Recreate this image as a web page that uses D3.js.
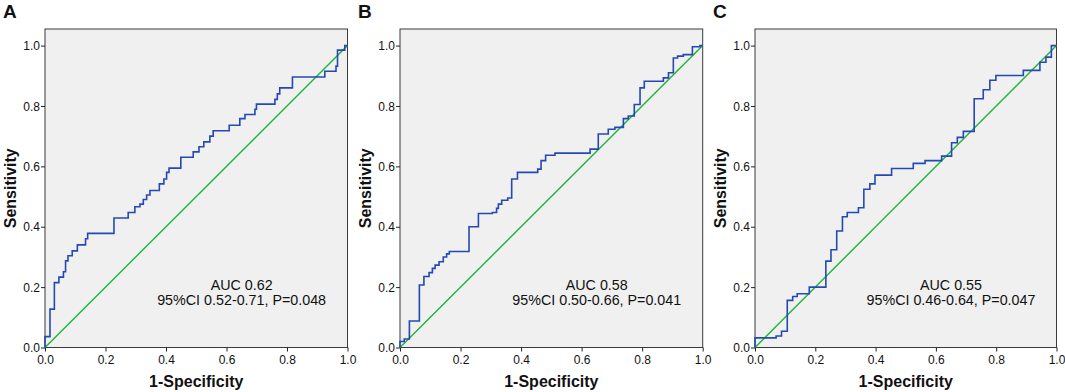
<!DOCTYPE html>
<html>
<head>
<meta charset="utf-8">
<script src="https://cdn.jsdelivr.net/npm/d3@7"></script>
<style>
  body { margin: 0; background: #fff; }
  svg { display: block; font-family: "Liberation Sans", Arial, sans-serif; }
</style>
</head>
<body>
<div id="chart"></div>
<script>
// ROC curve corner points (1-specificity, sensitivity)
var fprA = [0,0,0.0165,0.031,0.046,0.061,0.068,0.076,0.09,0.107,0.134,0.141,0.228,0.275,0.297,0.314,0.325,0.336,0.347,0.378,0.393,0.402,0.41,0.449,0.49,0.509,0.525,0.545,0.556,0.609,0.644,0.661,0.694,0.699,0.76,0.768,0.776,0.818,0.925,0.962,0.967,0.991,1];
var tprA = [0,0.036,0.127,0.215,0.233,0.251,0.287,0.304,0.32,0.34,0.36,0.378,0.429,0.447,0.466,0.475,0.49,0.505,0.52,0.542,0.558,0.58,0.594,0.63,0.648,0.665,0.681,0.70,0.718,0.736,0.758,0.772,0.789,0.806,0.822,0.84,0.86,0.896,0.915,0.932,0.985,1.0,1];

var fprB = [0,0,0.014,0.031,0.064,0.079,0.096,0.107,0.116,0.129,0.143,0.154,0.163,0.228,0.259,0.305,0.319,0.325,0.336,0.356,0.369,0.388,0.455,0.466,0.481,0.512,0.628,0.655,0.688,0.71,0.738,0.754,0.774,0.793,0.807,0.87,0.887,0.903,0.917,0.936,0.966,0.991,1];
var tprB = [0,0.02,0.028,0.088,0.207,0.235,0.248,0.262,0.273,0.284,0.30,0.31,0.318,0.40,0.444,0.447,0.461,0.475,0.488,0.495,0.558,0.58,0.591,0.619,0.637,0.644,0.657,0.707,0.723,0.729,0.758,0.767,0.805,0.86,0.882,0.893,0.91,0.959,0.965,0.97,0.996,1.0,1];

var fprC = [0,0,0.07,0.088,0.107,0.125,0.14,0.18,0.235,0.252,0.271,0.29,0.306,0.343,0.361,0.381,0.398,0.453,0.525,0.564,0.619,0.652,0.671,0.691,0.727,0.757,0.779,0.799,0.89,0.945,0.965,0.983,1];
var tprC = [0,0.032,0.038,0.054,0.156,0.169,0.178,0.20,0.286,0.324,0.386,0.433,0.447,0.463,0.524,0.542,0.571,0.593,0.61,0.619,0.634,0.678,0.696,0.716,0.824,0.854,0.885,0.901,0.918,0.945,0.962,1.0,1];

var panelLetters = ["A", "B", "C"];
var aucLabels = ["AUC 0.62", "AUC 0.58", "AUC 0.55"];
var ciLabels = ["95%CI 0.52-0.71, P=0.048", "95%CI 0.50-0.66, P=0.041", "95%CI 0.46-0.64, P=0.047"];
var tickValues = [0, 0.2, 0.4, 0.6, 0.8, 1.0];
var xTitle = "1-Specificity";
var yTitle = "Sensitivity";

var W = 1065, H = 392;
var svg = d3.select("#chart").append("svg").attr("width", W).attr("height", H);

var panels = [
  {left: 45, width: 302.5, fpr: fprA, tpr: tprA},
  {left: 400, width: 302.7, fpr: fprB, tpr: tprB},
  {left: 755, width: 301.5, fpr: fprC, tpr: tprC}
];
var plotTop = 29, plotBottom = 347.5;

panels.forEach(function(p, i) {
  var g = svg.append("g").attr("transform", "translate(" + p.left + ",0)");
  var x = d3.scaleLinear().domain([0, 1]).range([0, p.width]);
  var y = d3.scaleLinear().domain([0, 1.055]).range([plotBottom, plotTop]);

  // plot background + frame
  g.append("rect")
    .attr("x", 0).attr("y", plotTop)
    .attr("width", p.width).attr("height", plotBottom - plotTop)
    .attr("fill", "#f0f0f0")
    .attr("stroke", "#3a3a3a").attr("stroke-width", 1);

  // axes
  var ya = g.append("g")
    .call(d3.axisLeft(y).tickValues(tickValues).tickSize(4).tickFormat(d3.format(".1f")));
  var xa = g.append("g").attr("transform", "translate(0," + plotBottom + ")")
    .call(d3.axisBottom(x).tickValues(tickValues).tickSize(4).tickFormat(d3.format(".1f")));
  [ya, xa].forEach(function(a) {
    a.attr("font-size", null).attr("font-family", null);
    a.select(".domain").remove();
    a.selectAll("line").attr("stroke", "#222");
    a.selectAll("text").attr("fill", "#111").style("font-size", "12px");
  });
  ya.selectAll("text").attr("x", -5).attr("dy", "0.35em");
  xa.selectAll("text").attr("y", 8);

  // reference diagonal
  g.append("path").datum([0, 1])
    .attr("fill", "none").attr("stroke", "#1fb33a").attr("stroke-width", 1.4)
    .attr("d", d3.line().x(function(d){ return x(d); }).y(function(d){ return y(d); }));

  // roc curve
  var pts = p.fpr.map(function(v, k){ return [v, p.tpr[k]]; });
  g.append("path").datum(pts)
    .attr("fill", "none").attr("stroke", "#2449b3").attr("stroke-width", 1.6)
    .attr("d", d3.line().curve(d3.curveStepAfter)
      .x(function(d){ return x(d[0]); }).y(function(d){ return y(d[1]); }));

  // AUC text
  var cx = x(0.65);
  g.append("text").attr("x", cx).attr("y", 290).attr("text-anchor", "middle")
    .style("font-size", "14.3px").attr("fill", "#111").text(aucLabels[i]);
  g.append("text").attr("x", cx).attr("y", 304.5).attr("text-anchor", "middle")
    .style("font-size", "14.3px").attr("fill", "#111").text(ciLabels[i]);

  // axis titles
  g.append("text").attr("x", p.width / 2).attr("y", 387).attr("text-anchor", "middle")
    .style("font-size", "16px").style("font-weight", "bold").attr("fill", "#111").text(xTitle);
  g.append("text").attr("transform", "translate(-29," + ((plotTop + plotBottom) / 2) + ") rotate(-90)")
    .attr("text-anchor", "middle")
    .style("font-size", "16px").style("font-weight", "bold").attr("fill", "#111").text(yTitle);

  // panel letter
  g.append("text").attr("x", -42).attr("y", 18)
    .style("font-size", "19px").style("font-weight", "bold").attr("fill", "#111").text(panelLetters[i]);
});
</script>
</body>
</html>
